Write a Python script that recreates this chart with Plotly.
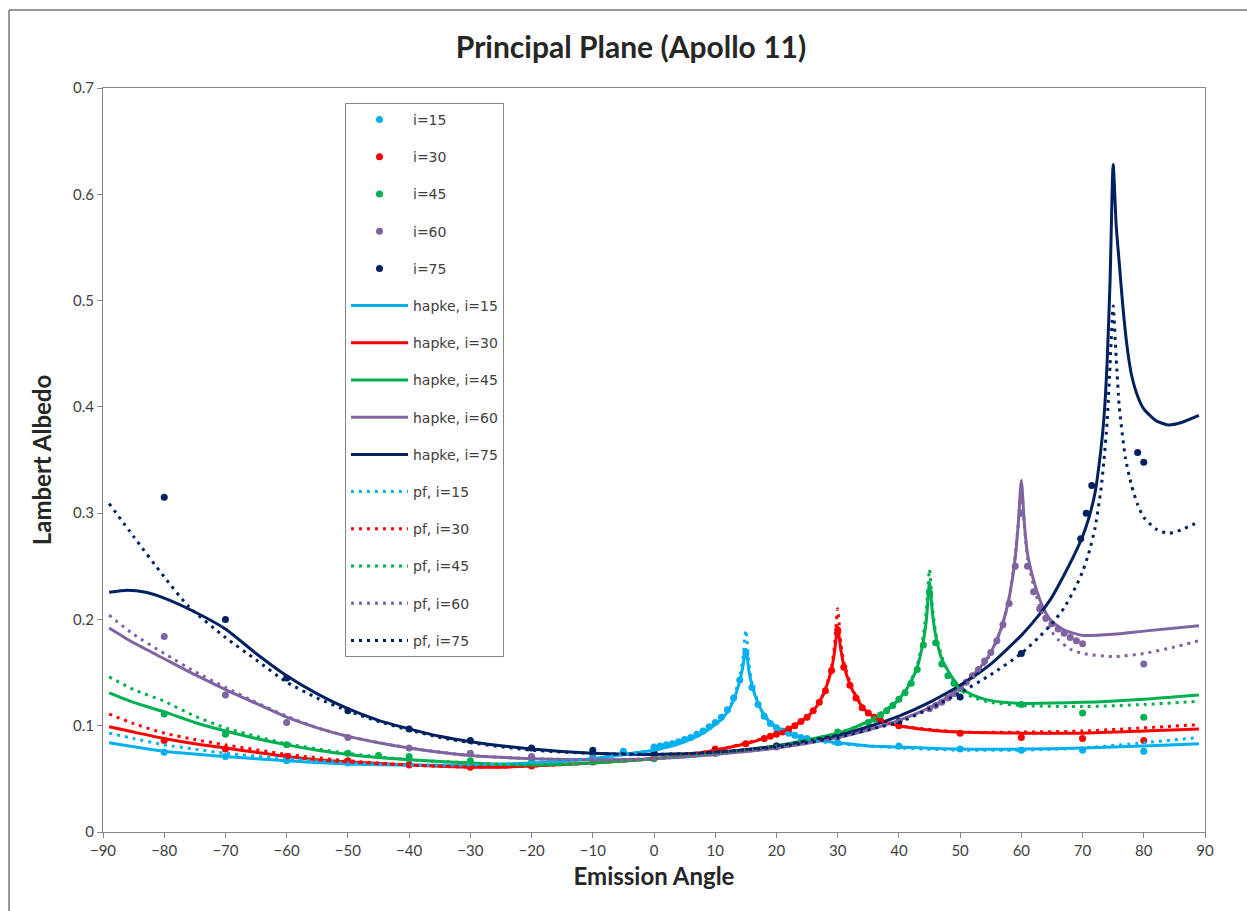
import plotly.graph_objects as go

# ---- measured data (Lambert albedo vs emission angle) ----
obs15_x = [-80, -70, -60, -50, -40, -30, -20, -10, -5, 0, 1, 2, 3, 4, 5, 6, 7, 8, 9, 10, 11, 12, 13, 14, 15,
           16, 17, 18, 19, 20, 21, 22, 23, 24, 25, 30, 40, 50, 60, 70, 80]
obs15_y = [0.075, 0.071, 0.067, 0.065, 0.064, 0.064, 0.066, 0.072, 0.076, 0.080, 0.081, 0.082, 0.083, 0.085,
           0.087, 0.089, 0.092, 0.095, 0.099, 0.103, 0.108, 0.115, 0.126, 0.143, 0.168,
           0.136, 0.120, 0.109, 0.102, 0.098, 0.095, 0.093, 0.091, 0.089, 0.088, 0.084, 0.081, 0.078, 0.077,
           0.077, 0.076]

obs30_x = [-80, -70, -60, -50, -40, -30, -20, -10, 0, 10, 15, 18, 19, 20, 21, 22, 23, 24, 25, 26, 27, 28, 29,
           30, 31, 32, 33, 34, 35, 36, 37, 40, 50, 60, 70, 80]
obs30_y = [0.086, 0.078, 0.071, 0.067, 0.063, 0.061, 0.062, 0.066, 0.070, 0.078, 0.083, 0.088, 0.090, 0.092,
           0.094, 0.097, 0.100, 0.104, 0.108, 0.114, 0.122, 0.133, 0.152, 0.190, 0.155, 0.138, 0.126,
           0.117, 0.112, 0.108, 0.105, 0.100, 0.093, 0.089, 0.088, 0.086]

obs45_x = [-80, -70, -60, -50, -45, -40, -30, -20, -10, 0, 10, 20, 30, 35, 36, 37, 38, 39, 40, 41, 42, 43,
           44, 45, 46, 47, 48, 49, 50, 60, 70, 80]
obs45_y = [0.111, 0.092, 0.082, 0.074, 0.072, 0.071, 0.067, 0.065, 0.066, 0.069, 0.074, 0.081, 0.094,
           0.103, 0.106, 0.110, 0.114, 0.119, 0.125, 0.131, 0.140, 0.153, 0.176, 0.225, 0.178, 0.158,
           0.147, 0.140, 0.135, 0.120, 0.112, 0.108]

obs60_x = [-80, -70, -60, -50, -40, -30, -20, -10, 0, 10, 20, 30, 40, 45, 46, 47, 48, 49, 50, 51, 52, 53,
           54, 55, 56, 57, 58, 59, 60, 61, 62, 63, 64, 65, 66, 67, 68, 69, 70, 80]
obs60_y = [0.184, 0.129, 0.103, 0.089, 0.079, 0.074, 0.071, 0.069, 0.070, 0.074, 0.080, 0.090, 0.104,
           0.116, 0.119, 0.122, 0.126, 0.130, 0.136, 0.141, 0.147, 0.153, 0.161, 0.169, 0.180, 0.195,
           0.215, 0.250, 0.300, 0.250, 0.226, 0.210, 0.201, 0.196, 0.191, 0.187, 0.183, 0.180, 0.177,
           0.158]

obs75_x = [-80, -70, -60, -50, -40, -30, -20, -10, 0, 10, 20, 30, 40, 50, 60, 69.7, 70.6, 71.5, 79, 80]
obs75_y = [0.315, 0.200, 0.145, 0.114, 0.097, 0.086, 0.079, 0.077, 0.075, 0.076, 0.081, 0.090, 0.104,
           0.127, 0.168, 0.276, 0.300, 0.326, 0.357, 0.348]

# ---- Hapke model curves ----
hap15_x = [-89, -80, -70, -60, -50, -40, -30, -20, -10, -5, 0, 3, 5, 8, 10, 11, 12, 13, 14, 14.5, 15, 15.5,
           16, 17, 18, 19, 20, 22, 24, 27, 30, 35, 40, 50, 60, 70, 80, 89]
hap15_y = [0.084, 0.076, 0.071, 0.067, 0.064, 0.063, 0.063, 0.065, 0.069, 0.073, 0.077, 0.081, 0.085,
           0.093, 0.101, 0.106, 0.113, 0.124, 0.142, 0.155, 0.172, 0.152, 0.138, 0.121, 0.110, 0.103,
           0.099, 0.093, 0.089, 0.086, 0.084, 0.081, 0.080, 0.078, 0.078, 0.079, 0.081, 0.083]

hap30_x = [-89, -85, -80, -75, -70, -65, -60, -55, -50, -40, -30, -25, -20, -10, 0, 5, 10, 15, 18, 20, 22,
           24, 25, 26, 27, 28, 29, 29.5, 30, 30.5, 31, 32, 33, 34, 35, 37, 40, 45, 50, 60, 70, 80, 89]
hap30_y = [0.099, 0.094, 0.088, 0.083, 0.079, 0.075, 0.071, 0.068, 0.066, 0.063, 0.061, 0.061, 0.062,
           0.065, 0.069, 0.072, 0.077, 0.083, 0.088, 0.092, 0.097, 0.104, 0.108, 0.114, 0.122, 0.134,
           0.153, 0.170, 0.193, 0.172, 0.157, 0.139, 0.127, 0.118, 0.112, 0.105, 0.100, 0.096, 0.094,
           0.093, 0.093, 0.095, 0.097]

hap45_x = [-89, -85, -80, -75, -70, -65, -60, -55, -50, -45, -40, -30, -20, -10, 0, 10, 20, 30, 33, 35, 37,
           39, 40, 41, 42, 43, 44, 44.5, 45, 45.5, 46, 47, 48, 49, 50, 52, 54, 57, 60, 70, 80, 89]
hap45_y = [0.131, 0.122, 0.113, 0.103, 0.095, 0.088, 0.082, 0.077, 0.073, 0.070, 0.068, 0.065, 0.063,
           0.065, 0.069, 0.074, 0.081, 0.093, 0.099, 0.104, 0.110, 0.119, 0.125, 0.132, 0.142, 0.155,
           0.180, 0.200, 0.235, 0.205, 0.185, 0.163, 0.152, 0.143, 0.136, 0.129, 0.125, 0.122, 0.121,
           0.122, 0.125, 0.129]

hap60_x = [-89, -85, -80, -75, -70, -65, -60, -55, -50, -45, -40, -35, -30, -20, -10, 0, 10, 20, 30, 35,
           40, 45, 48, 50, 52, 54, 55, 56, 57, 58, 59, 59.5, 60, 60.5, 61, 62, 63, 64, 65, 67, 70, 75,
           80, 89]
hap60_y = [0.192, 0.178, 0.163, 0.148, 0.134, 0.121, 0.108, 0.098, 0.090, 0.084, 0.079, 0.075, 0.072,
           0.069, 0.068, 0.069, 0.073, 0.079, 0.089, 0.096, 0.105, 0.117, 0.127, 0.136, 0.147, 0.160,
           0.169, 0.181, 0.197, 0.220, 0.258, 0.290, 0.331, 0.290, 0.262, 0.237, 0.219, 0.206, 0.198,
           0.190, 0.185, 0.186, 0.189, 0.194]

hap75_x = [-89, -86, -83, -80, -75, -70, -65, -60, -55, -50, -45, -40, -35, -30, -20, -10, 0, 10, 20, 30,
           35, 40, 45, 50, 55, 60, 63, 65, 67, 69, 70, 71, 72, 73, 73.5, 74, 74.5, 75, 75.5, 76, 76.5,
           77, 77.5, 78, 79, 80, 82, 84, 86, 89]
hap75_y = [0.2255, 0.2275, 0.2255, 0.220, 0.207, 0.191, 0.168, 0.147, 0.130, 0.116, 0.105, 0.097, 0.090,
           0.085, 0.078, 0.074, 0.073, 0.075, 0.081, 0.091, 0.099, 0.109, 0.122, 0.138, 0.158, 0.185,
           0.205, 0.221, 0.242, 0.265, 0.278, 0.295, 0.318, 0.360, 0.390, 0.440, 0.520, 0.628, 0.570,
           0.535, 0.500, 0.470, 0.447, 0.430, 0.410, 0.398, 0.387, 0.383, 0.385, 0.392]

# ---- pf model curves ----
pf15_x = [-89, -85, -80, -75, -70, -60, -50, -40, -30, -20, -10, -5, 0, 5, 10, 12, 13, 14, 14.5, 15, 15.5,
          16, 17, 18, 20, 22, 25, 30, 40, 50, 60, 70, 80, 89]
pf15_y = [0.093, 0.088, 0.082, 0.078, 0.074, 0.069, 0.065, 0.063, 0.063, 0.065, 0.069, 0.073, 0.077,
          0.085, 0.101, 0.114, 0.126, 0.146, 0.162, 0.190, 0.158, 0.140, 0.122, 0.110, 0.098, 0.092,
          0.087, 0.083, 0.079, 0.077, 0.077, 0.079, 0.084, 0.089]

pf30_x = [-89, -85, -80, -75, -70, -60, -50, -40, -30, -20, -10, 0, 10, 20, 25, 27, 28, 29, 29.5, 30, 30.5,
          31, 32, 33, 34, 35, 37, 40, 50, 60, 70, 80, 89]
pf30_y = [0.111, 0.102, 0.093, 0.087, 0.082, 0.073, 0.067, 0.063, 0.061, 0.062, 0.065, 0.069, 0.077,
          0.092, 0.108, 0.122, 0.135, 0.155, 0.176, 0.210, 0.178, 0.160, 0.141, 0.128, 0.119, 0.113,
          0.105, 0.100, 0.094, 0.094, 0.095, 0.098, 0.101]

pf45_x = [-89, -85, -80, -75, -70, -65, -60, -50, -40, -30, -20, -10, 0, 10, 20, 30, 35, 40, 42, 43, 44,
          44.5, 45, 45.5, 46, 47, 48, 50, 52, 55, 60, 70, 80, 89]
pf45_y = [0.146, 0.134, 0.123, 0.109, 0.098, 0.090, 0.083, 0.074, 0.068, 0.065, 0.063, 0.065, 0.069,
          0.074, 0.081, 0.093, 0.104, 0.125, 0.143, 0.157, 0.185, 0.210, 0.247, 0.210, 0.188, 0.165,
          0.151, 0.134, 0.127, 0.122, 0.119, 0.118, 0.120, 0.123]

pf60_x = [-89, -85, -80, -75, -70, -65, -60, -55, -50, -40, -30, -20, -10, 0, 10, 20, 30, 40, 45, 50, 54,
          56, 57, 58, 59, 59.5, 60, 60.5, 61, 62, 63, 64, 65, 66, 68, 70, 75, 80, 85, 89]
pf60_y = [0.204, 0.186, 0.168, 0.151, 0.136, 0.122, 0.109, 0.098, 0.090, 0.079, 0.072, 0.069, 0.068,
          0.069, 0.073, 0.079, 0.089, 0.105, 0.116, 0.134, 0.158, 0.180, 0.196, 0.220, 0.260, 0.290,
          0.325, 0.288, 0.258, 0.232, 0.212, 0.198, 0.188, 0.181, 0.172, 0.168, 0.165, 0.168, 0.174,
          0.180]

pf75_x = [-89, -85, -80, -76, -70, -65, -60, -55, -50, -45, -40, -35, -30, -20, -10, 0, 10, 20, 30, 37,
          40, 45, 50, 55, 60, 63, 65, 67, 69, 70, 71, 72, 73, 73.5, 74, 74.5, 75, 75.5, 76, 77, 78, 79,
          80, 82, 84, 86, 89]
pf75_y = [0.309, 0.278, 0.240, 0.212, 0.183, 0.162, 0.141, 0.126, 0.114, 0.104, 0.096, 0.089, 0.084,
          0.077, 0.074, 0.073, 0.075, 0.080, 0.089, 0.099, 0.103, 0.116, 0.131, 0.148, 0.168, 0.184,
          0.196, 0.211, 0.232, 0.245, 0.262, 0.285, 0.322, 0.350, 0.385, 0.440, 0.495, 0.445, 0.400,
          0.352, 0.326, 0.308, 0.296, 0.285, 0.281, 0.284, 0.292]

incidences = ["15", "30", "45", "60", "75"]
colors = ["#00b0f0", "#ff0000", "#00b050", "#8064a2", "#002060"]

obs = [(obs15_x, obs15_y), (obs30_x, obs30_y), (obs45_x, obs45_y), (obs60_x, obs60_y), (obs75_x, obs75_y)]
hapke = [(hap15_x, hap15_y), (hap30_x, hap30_y), (hap45_x, hap45_y), (hap60_x, hap60_y), (hap75_x, hap75_y)]
pf = [(pf15_x, pf15_y), (pf30_x, pf30_y), (pf45_x, pf45_y), (pf60_x, pf60_y), (pf75_x, pf75_y)]

fig = go.Figure()

for k, (inc, col) in enumerate(zip(incidences, colors)):
    x, y = obs[k]
    fig.add_trace(go.Scatter(x=x, y=y, mode="markers", name=f"i={inc}",
                             legendgroup=f"obs{inc}",
                             marker=dict(color=col, size=7, line=dict(width=0))))

for k, (inc, col) in enumerate(zip(incidences, colors)):
    x, y = hapke[k]
    fig.add_trace(go.Scatter(x=x, y=y, mode="lines", name=f"hapke, i={inc}",
                             legendgroup=f"hap{inc}",
                             line=dict(color=col, width=3, shape="spline", smoothing=0.6)))

for k, (inc, col) in enumerate(zip(incidences, colors)):
    x, y = pf[k]
    fig.add_trace(go.Scatter(x=x, y=y, mode="lines", name=f"pf, i={inc}",
                             legendgroup=f"pf{inc}",
                             line=dict(color=col, width=3, dash="3px,5px", shape="spline", smoothing=0.6)))

font_main = "Lato, Liberation Sans, Arial, sans-serif"
axis_col = "#868686"

fig.update_layout(
    width=1247, height=911,
    margin=dict(l=103, r=42, t=88, b=79),
    paper_bgcolor="white", plot_bgcolor="white",
    title=dict(text="<b>Principal Plane (Apollo 11)</b>", x=631 / 1247, xanchor="center",
               y=1 - 47 / 911, yanchor="middle",
               font=dict(family=font_main, size=30, color="#262626")),
    showlegend=True,
    legend=dict(x=(345 - 103) / 1102, y=(832 - 103) / 744, xanchor="left", yanchor="top",
                bgcolor="white", bordercolor=axis_col, borderwidth=1,
                font=dict(family="DejaVu Sans, Verdana, sans-serif", size=14, color="#404040"),
                traceorder="grouped", tracegroupgap=16, itemwidth=57),
    xaxis=dict(range=[-90, 90], tick0=-90, dtick=10, showgrid=False, zeroline=False,
               showline=True, linecolor=axis_col, linewidth=1, mirror=True,
               ticks="outside", ticklen=5, tickcolor=axis_col,
               tickfont=dict(family=font_main, size=15, color="#404040"),
               title=dict(text="<b>Emission Angle</b>", standoff=10,
                          font=dict(family=font_main, size=24, color="#262626"))),
    yaxis=dict(range=[0, 0.7], tick0=0, dtick=0.1, showgrid=False, zeroline=False,
               showline=True, linecolor=axis_col, linewidth=1, mirror=True,
               ticks="outside", ticklen=5, tickcolor=axis_col,
               tickfont=dict(family=font_main, size=15, color="#404040"),
               title=dict(text="<b>Lambert Albedo</b>", standoff=14,
                          font=dict(family=font_main, size=24, color="#262626"))),
)

# chart-area frame (left and top edges)
fx0 = (9 - 103) / 1102
fy0 = (832 - 10) / 744
fig.add_shape(type="line", xref="paper", yref="paper", x0=fx0, x1=fx0, y0=fy0, y1=-0.2,
              line=dict(color="#303030", width=1))
fig.add_shape(type="line", xref="paper", yref="paper", x0=fx0, x1=1.1, y0=fy0, y1=fy0,
              line=dict(color="#303030", width=1))

fig.write_html("out.html")
